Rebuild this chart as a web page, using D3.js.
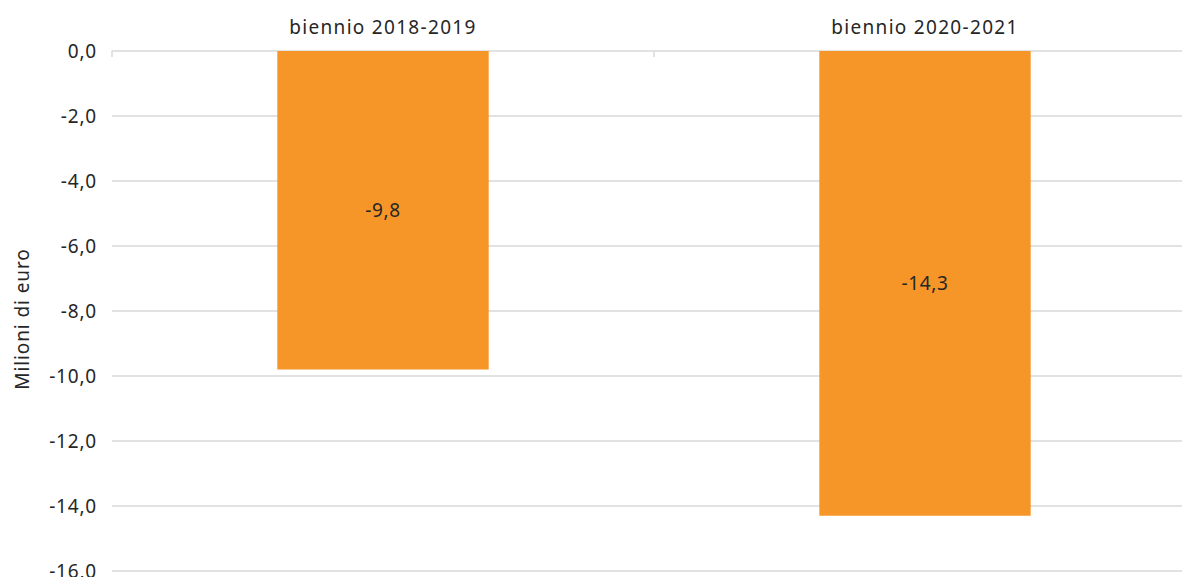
<!DOCTYPE html>
<html>
<head>
<meta charset="utf-8">
<script src="https://cdn.jsdelivr.net/npm/d3@7"></script>
<style>
  body { margin: 0; background: #fff; }
  svg { display: block; }
</style>
</head>
<body>
<script>
// Data
const categories = ['biennio 2018-2019', 'biennio 2020-2021'];
const values = [-9.8, -14.3];
const yTicks = [0, -2, -4, -6, -8, -10, -12, -14, -16];
const yTitle = 'Milioni di euro';

// SVG setup
const width = 1182;
const height = 577;
const margin = { top: 51, left: 112 };
const plotRight = 1196;
const plotBottom = 571;

const font = '"Noto Sans", "Open Sans", sans-serif';
const textColor = '#262626';
const gridColor = '#d9d9d9';

const svg = d3.select('body')
.append('svg')
.attr('width', width)
.attr('height', height);

const xScale = d3.scaleBand()
.domain(categories)
.range([margin.left, plotRight]);

const yScale = d3.scaleLinear()
.domain([0, -16])
.range([margin.top, plotBottom]);

const barWidth = xScale.bandwidth() * 0.39;

// Gridlines
svg.selectAll('line.grid')
.data(yTicks)
.enter()
.append('line')
.attr('class', 'grid')
.attr('x1', margin.left)
.attr('x2', plotRight)
.attr('y1', d => yScale(d))
.attr('y2', d => yScale(d))
.attr('stroke', gridColor)
.attr('stroke-width', 1.5);

// Category ticks on the zero line
const tickXs = [margin.left, margin.left + xScale.step(), plotRight];
svg.selectAll('line.xtick')
.data(tickXs)
.enter()
.append('line')
.attr('class', 'xtick')
.attr('x1', d => d)
.attr('x2', d => d)
.attr('y1', yScale(0))
.attr('y2', yScale(0) + 6)
.attr('stroke', gridColor)
.attr('stroke-width', 1.5);

// Bars
svg.selectAll('rect.bar')
.data(values)
.enter()
.append('rect')
.attr('class', 'bar')
.attr('x', (d, i) => xScale(categories[i]) + (xScale.bandwidth() - barWidth) / 2)
.attr('y', yScale(0))
.attr('width', barWidth)
.attr('height', d => yScale(d) - yScale(0))
.attr('fill', '#f79628');

// Bar labels
svg.selectAll('text.val')
.data(values)
.enter()
.append('text')
.attr('class', 'val')
.text(d => d.toFixed(1).replace('.', ','))
.attr('x', (d, i) => xScale(categories[i]) + xScale.bandwidth() / 2)
.attr('y', d => (yScale(0) + yScale(d)) / 2 + 7)
.attr('text-anchor', 'middle')
.attr('font-family', font)
.attr('font-size', '19px')
.attr('letter-spacing', '0.6px')
.attr('fill', textColor);

// Category labels (top)
svg.selectAll('text.cat')
.data(categories)
.enter()
.append('text')
.attr('class', 'cat')
.text(d => d)
.attr('x', d => xScale(d) + xScale.bandwidth() / 2)
.attr('y', 34)
.attr('text-anchor', 'middle')
.attr('font-family', font)
.attr('font-size', '19px')
.attr('letter-spacing', '1.3px')
.attr('fill', textColor);

// Y tick labels
svg.selectAll('text.ytick')
.data(yTicks)
.enter()
.append('text')
.attr('class', 'ytick')
.text(d => d.toFixed(1).replace('.', ','))
.attr('x', 97)
.attr('y', d => yScale(d) + 7)
.attr('text-anchor', 'end')
.attr('font-family', font)
.attr('font-size', '19px')
.attr('letter-spacing', '0.8px')
.attr('fill', textColor);

// Y axis title
svg.append('text')
.text(yTitle)
.attr('transform', 'translate(29, 319) rotate(-90)')
.attr('text-anchor', 'middle')
.attr('font-family', font)
.attr('font-size', '19px')
.attr('letter-spacing', '0.9px')
.attr('fill', textColor);
</script>
</body>
</html>
